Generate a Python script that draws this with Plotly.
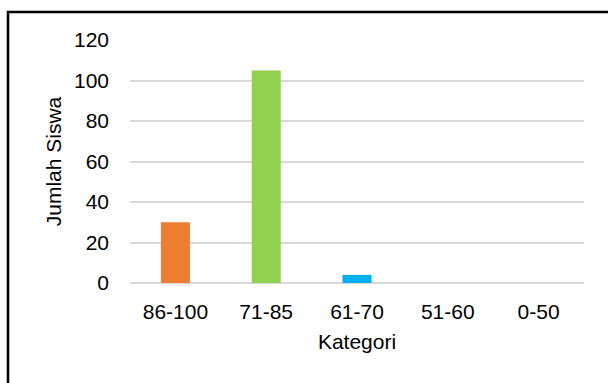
import plotly.graph_objects as go

categories = ["86-100", "71-85", "61-70", "51-60", "0-50"]
values = [30, 105, 4, 0, 0]
colors = ["#ED7D31", "#92D050", "#00B0F0", "#5B9BD5", "#5B9BD5"]
y_ticks = [0, 20, 40, 60, 80, 100, 120]

W, H = 608, 383
L, R, T, B = 130, 24, 40, 100
pw, ph = W - L - R, H - T - B

fig = go.Figure(go.Bar(x=categories, y=values, marker_color=colors, marker_line_width=0, width=0.32))

fig.update_layout(
    width=W, height=H,
    margin=dict(l=L, r=R, t=T, b=B),
    paper_bgcolor="white", plot_bgcolor="white",
    showlegend=False,
    font=dict(family="Liberation Sans, Arial", color="#000000"),
)
fig.update_yaxes(
    range=[0, 120], tickvals=y_ticks, showgrid=True, gridcolor="#D9D9D9", gridwidth=2,
    zeroline=True, zerolinecolor="#D9D9D9", zerolinewidth=2,
    showline=False, ticks="", ticklabelstandoff=20,
    tickfont=dict(family="Liberation Sans", size=21, color="#000000"),
    title=dict(text="Jumlah Siswa", font=dict(family="Liberation Sans", size=21, color="#000000"), standoff=6),
)
fig.update_xaxes(
    showgrid=False, showline=False, ticks="", ticklabelstandoff=14,
    tickfont=dict(family="Liberation Sans", size=21, color="#000000"),
    title=dict(text="Kategori", font=dict(family="Liberation Sans", size=21, color="#000000"), standoff=12),
)

# outer frame (left and top edges visible, rest outside the image)
x0 = (8 - L) / pw
y1 = (H - B - 12) / ph
fig.add_shape(type="rect", xref="paper", yref="paper",
              x0=x0, x1=(W + 20 - L) / pw, y0=-(B + 20) / ph, y1=y1,
              line=dict(color="#000000", width=2.5), fillcolor="rgba(0,0,0,0)", layer="above")

fig.write_html("out.html")
